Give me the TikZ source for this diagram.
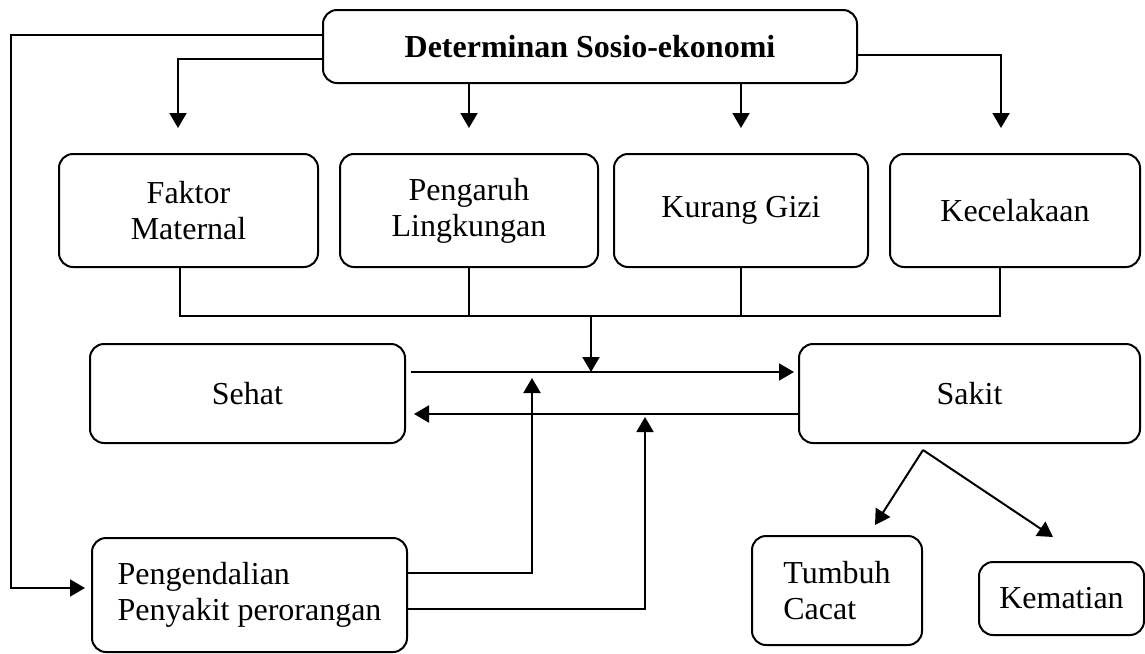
\documentclass[tikz,border=0pt]{standalone}
\usepackage{fontspec}
\setmainfont{Liberation Serif}
\usetikzlibrary{arrows.meta,calc}
\begin{document}
\begin{tikzpicture}[x=0.5pt,y=-0.5pt,line width=1pt]
    \tikzset{
      box/.style={
        draw, rounded corners=7pt, align=center,
        font=\fontsize{16}{18}\selectfont,
      },
      arr/.style={-{Triangle[length=7.5pt,width=8.5pt]}},
    }
    \useasboundingbox (0,0) rectangle (1145,653);
    %
    \node[box, font=\fontsize{16}{18}\selectfont\bfseries,
      minimum width=267pt, minimum height=36.5pt] (det) at (590,46.5)
      {Determinan Sosio-ekonomi};
    \node[box, minimum width=129.5pt, minimum height=56.5pt] (fm) at (188.5,210.5)
      {Faktor\\Maternal};
    \node[box, minimum width=129pt, minimum height=56.5pt] (pl) at (469,210.5)
      {Pengaruh\\Lingkungan};
    \node[box, minimum width=127pt, minimum height=56.5pt] (kg) at (741,210.5)
      {Kurang Gizi};
    \node[box, minimum width=125pt, minimum height=56.5pt] (kc) at (1015,210.5)
      {Kecelakaan};
    \node[box, minimum width=157.5pt, minimum height=49.5pt] (sh) at (247.5,393.5)
      {Sehat};
    \node[box, minimum width=170.5pt, minimum height=49.5pt] (sk) at (969.5,393.5)
      {Sakit};
    \node[box, align=left, minimum width=157.5pt, minimum height=57pt] (pp) at (249.5,595)
      {Pengendalian\\Penyakit perorangan};
    \node[box, align=left, minimum width=85pt, minimum height=54.5pt] (tc) at (837,590.5)
      {Tumbuh\\Cacat};
    \node[box, minimum width=82.5pt, minimum height=36.5pt] (km) at (1061.5,598.5)
      {Kematian};
    %
    \draw[arr, shorten >=3pt] ($(det.west)+(0,-11.5)$) -- ++(-311,0) |- ($(pp.west)+(0,-7)$);
    \draw[arr] ($(det.west)+(0,12.5)$) -| ($(fm.north)+(-10.5,-25)$);
    \draw[arr] (det.south -| pl.north) -- ($(pl.north)+(0,-25)$);
    \draw[arr] (det.south -| kg.north) -- ($(kg.north)+(0,-25)$);
    \draw[arr] ($(det.east)+(0,8.5)$) -| ($(kc.north)+(-14,-25)$);
    %
    \draw ($(fm.south)+(-8.5,0)$) |- ($(kc.south)+(-15,48)$) -- ($(kc.south)+(-15,0)$);
    \draw (pl.south) -- ++(0,48);
    \draw (kg.south) -- ++(0,48);
    \coordinate (bus) at (591,315);
    \draw[arr] (bus) -- ++(0,57);
    %
    \draw[arr] ($(sh.east)+(5,-21.5)$) -- ($(sk.west)+(-4,-21.5)$);
    \draw[arr] ($(sk.west)+(0,20.5)$) -- ($(sh.east)+(8,20.5)$);
    %
    \coordinate (up1) at (532,378);
    \coordinate (up2) at (645,417);
    \draw[arr] ($(pp.east)+(0,-22)$) -| (up1);
    \draw[arr] ($(pp.east)+(0,14)$) -| (up2);
    %
    \coordinate (split) at (923,450);
    \coordinate (tcin) at (875,525);
    \coordinate (kmin) at (1053,537);
    \draw[arr] (split) -- (tcin);
    \draw[arr] (split) -- (kmin);
\end{tikzpicture}
\end{document}
